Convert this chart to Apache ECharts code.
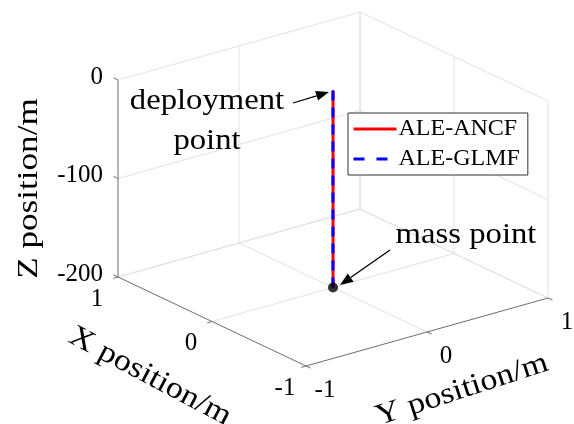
<!DOCTYPE html>
<html><head><meta charset="utf-8">
<script src="https://cdn.jsdelivr.net/npm/echarts@6/dist/echarts.min.js"></script>
<style>html,body{margin:0;padding:0;background:#fff}#c{width:574px;height:424px}</style>
</head><body><div id="c"></div>
<script>
// ---- data ----
const xTicks = [-1, 0, 1];
const yTicks = [-1, 0, 1];
const zTicks = [-200, -100, 0];
const xTickLabels = ['-1', '0', '1'];
const yTickLabels = ['-1', '0', '1'];
const zTickLabels = ['-200', '-100', '0'];
const seriesNames = ['ALE-ANCF', 'ALE-GLMF'];
const ancfX = [0, 0], ancfY = [0, 0], ancfZ = [0, -200];
const glmfX = [0, 0], glmfY = [0, 0], glmfZ = [0, -200];
const massPoint = [0, 0, -200];
const deploymentPoint = [0, 0, 0];
const axisNames = ['X position/m', 'Y position/m', 'Z position/m'];
const annotations = ['deployment\npoint', 'mass point'];

// ---- view (3D -> 2D projection, MATLAB default-like view) ----
const xRange = [-1, 1], yRange = [-1, 1], zRange = [-200, 0];
const C0 = [333, 287.5];          // screen point of (0,0,zmin)
const ex = [-94, -44.5], ey = [121, -34], ezPx = 0.985;
function proj(x, y, z) {
  return [C0[0] + x * ex[0] + y * ey[0], C0[1] + x * ex[1] + y * ey[1] - (z - zRange[0]) * ezPx];
}
function seg(a, b) { const p = proj(...a), q = proj(...b); return [p[0], p[1], q[0], q[1]]; }

const X0 = xRange[1], X1 = xRange[0], Y0 = yRange[0], Y1 = yRange[1], ZB = zRange[0], ZT = zRange[1];
// light grid / back box
const gridSegs = [];
xTicks.forEach(v => { if (v !== X1) gridSegs.push(seg([v, Y0, ZB], [v, Y1, ZB])); gridSegs.push(seg([v, Y1, ZB], [v, Y1, ZT])); });
yTicks.forEach(v => { if (v !== Y0) { gridSegs.push(seg([X0, v, ZB], [X1, v, ZB])); gridSegs.push(seg([X0, v, ZB], [X0, v, ZT])); } });
zTicks.forEach(v => { gridSegs.push(seg([X0, Y0, v], [X0, Y1, v])); gridSegs.push(seg([X0, Y1, v], [X1, Y1, v])); });
// dark axes + ticks
const axisSegs = [
  seg([X0, Y0, ZB], [X0, Y0, ZT]),
  seg([X0, Y0, ZB], [X1, Y0, ZB]),
  seg([X1, Y0, ZB], [X1, Y1, ZB])
];
function unit(v) { const l = Math.hypot(v[0], v[1]); return [v[0] / l, v[1] / l]; }
const tl = 5, ux = unit(ex), uy = unit(ey);
zTicks.forEach(v => { const p = proj(X0, Y0, v); axisSegs.push([p[0], p[1], p[0] + ux[0] * tl, p[1] + ux[1] * tl]); });
xTicks.forEach(v => { const p = proj(v, Y0, ZB); axisSegs.push([p[0], p[1], p[0] - uy[0] * tl, p[1] - uy[1] * tl]); });
yTicks.forEach(v => { const p = proj(X1, v, ZB); axisSegs.push([p[0], p[1], p[0] - ux[0] * tl, p[1] - ux[1] * tl]); });

const segData = gridSegs.map(s => s.concat([0])).concat(axisSegs.map(s => s.concat([1])));

const ancf = ancfX.map((x, i) => proj(x, ancfY[i], ancfZ[i]));
const glmf = glmfX.map((x, i) => proj(x, glmfY[i], glmfZ[i]));
const mass = [proj(...massPoint)];

const FONT = '"Liberation Serif", "Times New Roman", serif';
const chart = echarts.init(document.getElementById('c'), null, { renderer: 'canvas' });
chart.setOption({
  animation: false,
  backgroundColor: '#fff',
  grid: { left: 0, right: 0, top: 0, bottom: 0 },
  xAxis: { type: 'value', min: 0, max: 574, show: false },
  yAxis: { type: 'value', min: 0, max: 424, inverse: true, show: false },
  legend: {
    data: [
      { name: seriesNames[0], lineStyle: { width: 3 } },
      { name: seriesNames[1], lineStyle: { width: 3, type: [11, 12] } }
    ],
    orient: 'vertical', left: 348, top: 113,
    padding: [2, 8, 2, 4], itemGap: 2, itemWidth: 43, itemHeight: 28,
    itemStyle: { opacity: 0 },
    lineStyle: { width: 3 },
    backgroundColor: '#fff', borderColor: '#333', borderWidth: 1, borderRadius: 0,
    textStyle: { fontFamily: FONT, fontSize: 24, color: '#000', lineHeight: 28, padding: [0, 0, 0, -3] }
  },
  series: [
    {
      type: 'custom', silent: true, z: 1,
      encode: { x: [0, 2], y: [1, 3] },
      data: segData,
      renderItem: function (params, api) {
        const p = api.coord([api.value(0), api.value(1)]);
        const q = api.coord([api.value(2), api.value(3)]);
        const dark = api.value(4) === 1;
        return { type: 'line', shape: { x1: p[0], y1: p[1], x2: q[0], y2: q[1] },
          style: { stroke: dark ? '#6e6e6e' : '#e2e2e2', lineWidth: 1 } };
      }
    },
    { name: seriesNames[0], type: 'line', data: ancf, symbol: 'none', showSymbol: false, z: 3,
      lineStyle: { color: '#ff0000', width: 3 }, itemStyle: { color: '#ff0000' } },
    { name: seriesNames[1], type: 'line', data: glmf, symbol: 'none', showSymbol: false, z: 4,
      lineStyle: { color: '#0000ff', width: 3, type: [10, 7] }, itemStyle: { color: '#0000ff' } },
    { type: 'scatter', data: mass, symbolSize: 10, z: 5, silent: true, itemStyle: { color: '#000' } }
  ]
});

// ---- texts and annotations ----
const px = p => chart.convertToPixel({ gridIndex: 0 }, p);
const g = [];
function txt(p, s, size, opt) {
  g.push(Object.assign({ type: 'text', x: p[0], y: p[1], z: 100,
    style: Object.assign({ text: s, fontFamily: FONT, fontSize: size, fill: '#000', align: 'center', verticalAlign: 'middle' }, opt.style || {}) },
    opt.el || {}));
}
zTicks.forEach((v, i) => { const p = px(proj(X0, Y0, v)); txt([p[0] - 15, p[1] - 3], zTickLabels[i], 25, { style: { align: 'right' } }); });
xTicks.forEach((v, i) => { const p = px(proj(v, Y0, ZB)); txt([p[0] - 21, p[1] + 22], xTickLabels[i], 25, {}); });
yTicks.forEach((v, i) => { const p = px(proj(X1, v, ZB)); txt([p[0] + 19, p[1] + 24], yTickLabels[i], 25, {}); });
// axis names
const xm = px(proj(0, Y0, ZB)), ym = px(proj(X1, 0, ZB)), zm = px(proj(X0, Y0, (ZB + ZT) / 2));
txt([xm[0] - 62, xm[1] + 55], axisNames[0], 30, { el: { rotation: -28 * Math.PI / 180, scaleX: 1.14 } });
txt([ym[0] + 35, ym[1] + 58], axisNames[1], 30, { el: { rotation: 18 * Math.PI / 180, scaleX: 1.14 } });
txt([zm[0] - 89, zm[1] + 10], axisNames[2], 30, { el: { rotation: Math.PI / 2, scaleX: 1.17 } });
// annotations
const dp = px(proj(...deploymentPoint)), mp = px(proj(...massPoint));
txt([dp[0] - 126, dp[1] + 31], annotations[0], 30, { style: { lineHeight: 40 }, el: { scaleX: 1.09 } });
txt([mp[0] + 133, mp[1] - 52], annotations[1], 30, { el: { scaleX: 1.09 } });
function arrow(from, to) {
  const d = unit([to[0] - from[0], to[1] - from[1]]), n = [-d[1], d[0]];
  const L = 13, Wd = 5;
  const b = [to[0] - d[0] * L, to[1] - d[1] * L];
  g.push({ type: 'line', z: 100, shape: { x1: from[0], y1: from[1], x2: b[0], y2: b[1] }, style: { stroke: '#000', lineWidth: 1.3 } });
  g.push({ type: 'polygon', z: 100, shape: { points: [to, [b[0] + n[0] * Wd, b[1] + n[1] * Wd], [b[0] - n[0] * Wd, b[1] - n[1] * Wd]] }, style: { fill: '#000' } });
}
arrow([dp[0] - 40, dp[1] + 12.5], [dp[0] - 4, dp[1] + 1.5]);
arrow([mp[0] + 57, mp[1] - 37.5], [mp[0] + 7, mp[1] - 2.5]);
chart.setOption({ graphic: g });
</script></body></html>
